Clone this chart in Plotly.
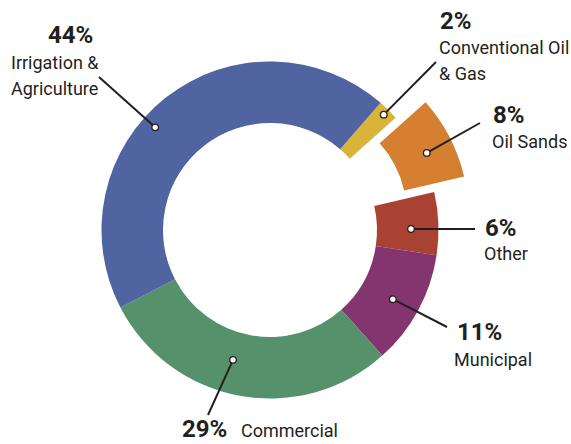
import math
import plotly.graph_objects as go

# ---- data ----
categories = ["Conventional Oil & Gas", "Oil Sands", "Other", "Municipal", "Commercial", "Irrigation & Agriculture"]
shares = [2, 8, 6, 11, 29, 44]
pct_labels = ["2%", "8%", "6%", "11%", "29%", "44%"]
name_labels = [["Conventional Oil", "& Gas"], ["Oil Sands"], ["Other"], ["Municipal"], ["Commercial"], ["Irrigation &", "Agriculture"]]
pulls = [0, 0.2, 0, 0, 0, 0]
colors = ["#D8B43B", "#D57F31", "#A94232", "#84356F", "#55916A", "#4F64A0"]

# ---- layout geometry (pixels in the 571x444 frame) ----
W, H = 571, 444
CX, CY, R = 270, 230, 168.5
HOLE = 0.635
ROT = 41
max_pull = max(pulls)
box = 2 * R * (1 + max_pull)
dom_x = [(CX - box / 2) / W, (CX + box / 2) / W]
dom_y = [1 - (CY + box / 2) / H, 1 - (CY - box / 2) / H]

# leader-line / label placement (layout only)
dot_r = [162, 141, 141, 141, 135, 154]
dot_nudge = [0, 1.5, 1.8, 1, 5.5, -10]
line_end = [(436, 62), (480, 123), (475, 229), (447, 327), (208, 415), (99, 77)]
pct_pos = [(438, 19.5, "left"), (491, 113.5, "left"), (483, 226.5, "left"), (455, 330.5, "left"), (229, 427, "right"), (95, 33.5, "right")]
name_pos = [(437, 45.5, "left"), (490, 139.5, "left"), (482, 251.5, "left"), (452, 357.5, "left"), (239, 429, "left"), (9, 60.5, "left")]
LINE_GAP = 26.5
CAP_SHIFT = 1.5   # bbox centre vs cap centre

TXT = "#231F20"
FONT = "Roboto, Liberation Sans, Arial, sans-serif"

fig = go.Figure()
fig.add_trace(go.Pie(
    labels=categories, values=shares, sort=False, direction="clockwise",
    rotation=ROT, hole=HOLE, pull=pulls, textinfo="none", hoverinfo="label+percent",
    marker=dict(colors=colors, line=dict(width=0)), showlegend=False,
    domain=dict(x=dom_x, y=dom_y),
))

total = sum(shares)
cum = 0
for i, v in enumerate(shares):
    mid = ROT + 360 * (cum + v / 2) / total
    cum += v
    th = math.radians(mid)
    off = pulls[i] * R
    thd = math.radians(mid + dot_nudge[i])
    dx = CX + off * math.sin(th) + dot_r[i] * math.sin(thd)
    dy = CY - off * math.cos(th) - dot_r[i] * math.cos(thd)
    ex, ey = line_end[i]
    fig.add_shape(type="line", xref="x", yref="y", x0=dx, y0=dy, x1=ex, y1=ey,
                  line=dict(color=TXT, width=2), layer="above")
    rr = 3.3
    fig.add_shape(type="circle", xref="x", yref="y", x0=dx - rr, x1=dx + rr, y0=dy - rr, y1=dy + rr,
                  fillcolor="white", line=dict(color=TXT, width=1.3), layer="above")

for i in range(len(shares)):
    px, py, pa = pct_pos[i]
    fig.add_annotation(x=px, y=py + CAP_SHIFT, text="<b>" + pct_labels[i] + "</b>", showarrow=False,
                       xanchor=pa, yanchor="middle", font=dict(size=24, color=TXT, family=FONT))
    nx, ny, na = name_pos[i]
    for k, line in enumerate(name_labels[i]):
        fig.add_annotation(x=nx, y=ny + k * LINE_GAP + CAP_SHIFT, text=line, showarrow=False,
                           xanchor=na, yanchor="middle", font=dict(size=18, color=TXT, family=FONT))

fig.update_layout(
    width=W, height=H, margin=dict(l=0, r=0, t=0, b=0),
    paper_bgcolor="white", plot_bgcolor="rgba(0,0,0,0)",
    xaxis=dict(range=[0, W], visible=False, fixedrange=True, domain=[0, 1]),
    yaxis=dict(range=[H, 0], visible=False, fixedrange=True, domain=[0, 1]),
    font=dict(family=FONT, color=TXT),
)
fig.write_html("out.html", config={"displayModeBar": False},
               post_script="document.body.style.margin='0';document.body.style.overflow='hidden';")
